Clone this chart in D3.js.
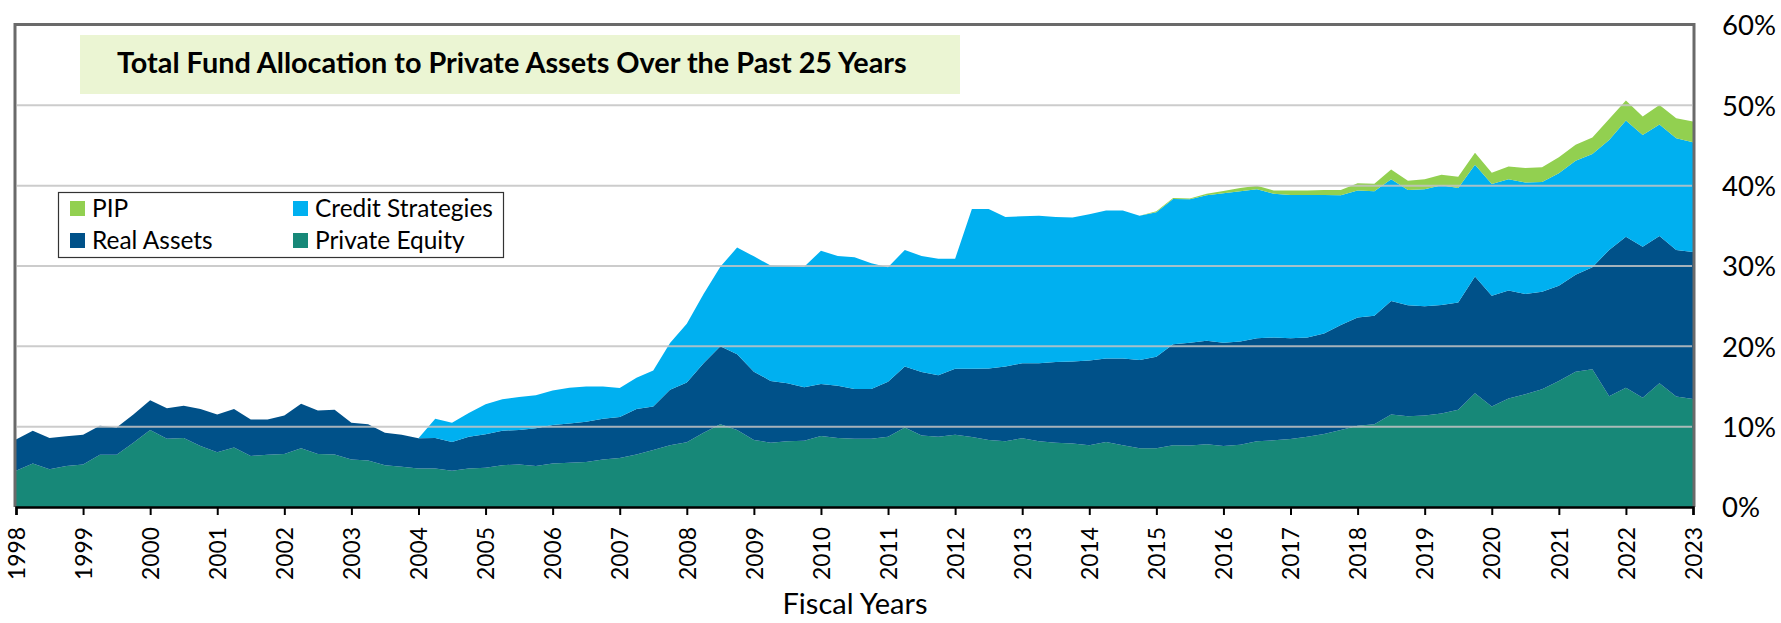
<!DOCTYPE html>
<html><head><meta charset="utf-8">
<script src="https://cdn.jsdelivr.net/npm/d3@7"></script>
<style>
body{margin:0;background:#fff;}
svg{display:block;}
text{font-family:Lato,"Open Sans",sans-serif;fill:#000;}
</style>
</head><body>
<svg id="chart" width="1781" height="623"></svg>
<script>
// ---- data ----
const seriesKeys = ["Private Equity","Real Assets","Credit Strategies","PIP"];
const seriesColors = ["#178878","#005189","#00B0F0","#92D050"];
const yearLabels = ["1998","1999","2000","2001","2002","2003","2004","2005","2006","2007","2008","2009","2010","2011","2012","2013","2014","2015","2016","2017","2018","2019","2020","2021","2022","2023"];
const yTickValues = [0,10,20,30,40,50,60];
const quarters = d3.range(101).map(i => 1998 + i / 4);

const privateEquity = [4.5,5.4,4.7,5.1,5.3,6.5,6.5,8.0,9.6,8.5,
 8.6,7.6,6.8,7.4,6.35,6.5,6.6,7.3,6.6,6.55,
 5.9,5.8,5.2,5.0,4.8,4.8,4.5,4.8,4.9,5.2,
 5.3,5.1,5.4,5.5,5.6,5.9,6.1,6.55,7.1,7.7,
 8.05,9.25,10.3,9.6,8.35,8.0,8.2,8.25,8.85,8.6,
 8.5,8.5,8.75,9.9,8.9,8.75,9.0,8.7,8.35,8.2,
 8.55,8.2,8.0,7.9,7.7,8.1,7.7,7.3,7.3,7.7,
 7.65,7.8,7.6,7.75,8.2,8.3,8.45,8.75,9.1,9.6,
 10.1,10.3,11.5,11.3,11.4,11.65,12.1,14.15,12.5,13.5,
 14.05,14.65,15.7,16.85,17.15,13.8,14.85,13.6,15.4,13.75,
 13.45];
const realAssets = [3.9,4.1,3.9,3.7,3.7,3.6,3.4,3.5,3.7,3.8,
 4.0,4.6,4.7,4.8,4.55,4.4,4.8,5.55,5.4,5.55,
 4.6,4.5,4.05,4.0,3.75,3.8,3.6,3.95,4.15,4.3,
 4.3,4.7,4.8,4.9,5.0,5.1,5.1,5.65,5.4,6.9,
 7.45,8.65,9.7,9.4,8.5,7.7,7.2,6.65,6.45,6.5,
 6.2,6.2,6.85,7.6,7.9,7.65,8.2,8.5,8.9,9.3,
 9.35,9.7,10.05,10.2,10.55,10.4,10.8,11.0,11.4,12.55,
 12.8,12.9,12.85,12.85,12.8,12.8,12.55,12.35,12.5,13.05,
 13.5,13.5,14.15,13.8,13.6,13.5,13.35,14.55,13.8,13.45,
 12.45,12.15,11.85,12.05,12.7,18.2,18.8,18.8,18.35,18.25,
 18.3];
const creditStrategies = [0,0,0,0,0,0,0,0,0,0,
 0,0,0,0,0,0,0,0,0,0,
 0,0,0,0,0,2.4,2.4,2.95,3.75,3.9,
 4.1,4.1,4.3,4.45,4.4,4.0,3.6,3.9,4.5,5.8,
 7.3,8.6,9.9,13.3,14.35,14.35,14.6,15.0,16.6,16.15,
 16.4,15.65,14.25,14.5,14.45,14.5,13.7,19.9,19.85,18.6,
 18.3,18.35,18.05,17.95,18.2,18.4,18.4,17.95,18.0,18.1,
 17.85,18.1,18.6,18.7,18.55,17.9,17.85,17.75,17.25,16.15,
 15.8,15.5,15.15,14.35,14.55,14.9,14.25,13.9,13.9,13.85,
 13.9,13.65,14.0,14.2,14.1,13.7,14.45,13.9,13.85,13.9,
 13.65];
const pip = [0,0,0,0,0,0,0,0,0,0,
 0,0,0,0,0,0,0,0,0,0,
 0,0,0,0,0,0,0,0,0,0,
 0,0,0,0,0,0,0,0,0,0,
 0,0,0,0,0,0,0,0,0,0,
 0,0,0,0,0,0,0,0,0,0,
 0,0,0,0,0,0,0,0,0.1,0.1,
 0.1,0.2,0.3,0.4,0.45,0.4,0.55,0.55,0.6,0.65,
 0.9,0.95,1.2,1.15,1.25,1.3,1.4,1.5,1.4,1.6,
 1.8,1.85,2.0,2.0,2.05,2.6,2.5,2.3,2.45,2.5,
 2.6];

// ---- build table ----
const seriesArrays = [privateEquity, realAssets, creditStrategies, pip];
const rows = quarters.map((q, i) => {
  const r = {year: q};
  seriesKeys.forEach((k, j) => r[k] = seriesArrays[j][i]);
  return r;
});

const svg = d3.select("#chart");
const x = d3.scaleLinear().domain([1998, 2023]).range([16, 1693]);
const y = d3.scaleLinear().domain([0, 60]).range([507, 25]);

function fit(sel, target) {
  const w = sel.node().getComputedTextLength();
  const fs = parseFloat(sel.attr("font-size"));
  return fs * target / w;
}

// areas
const stacked = d3.stack().keys(seriesKeys)(rows);
const area = d3.area()
  .x(d => x(d.data.year))
  .y0(d => y(d[0]))
  .y1(d => y(d[1]));
svg.append("g").selectAll("path").data(stacked).join("path")
  .attr("d", area)
  .attr("fill", (d, i) => seriesColors[i]);

// gridlines on top
svg.append("g").selectAll("line").data(yTickValues.filter(v => v > 0 && v < 60)).join("line")
  .attr("x1", 17).attr("x2", 1692)
  .attr("y1", d => y(d)).attr("y2", d => y(d))
  .attr("stroke", "#c4c4c4").attr("stroke-width", 2).attr("opacity", 0.85);

// frame
svg.append("path")
  .attr("d", `M${x(1998) - 1},${y(0)} V${y(60) - 0.5} H${x(2023) + 1} V${y(0)}`)
  .attr("fill", "none").attr("stroke", "#6a6a6a").attr("stroke-width", 3);

// x axis
const xAxis = d3.axisBottom(x).tickValues(yearLabels.map(Number)).tickSize(8).tickFormat(d => String(d));
const gx = svg.append("g").attr("transform", `translate(0,${y(0)})`).call(xAxis);
gx.select(".domain").attr("stroke", "#000").attr("stroke-width", 2.5);
gx.selectAll(".tick line").attr("stroke", "#000").attr("stroke-width", 2);
const xt = gx.selectAll(".tick text")
  .attr("font-size", 22)
  .attr("transform", "rotate(-90)")
  .attr("text-anchor", "end")
  .attr("x", -20).attr("y", 0).attr("dy", "0.36em");
const xfs = fit(d3.select(xt.nodes()[0]), 53);
xt.attr("font-size", xfs).style("font-family", "Lato,'Open Sans',sans-serif");

// y axis (right)
const yAxis = d3.axisRight(y).tickValues(yTickValues).tickSize(0).tickPadding(29).tickFormat(d => d + "%");
const gy = svg.append("g").attr("transform", `translate(${x(2023)},0)`).call(yAxis);
gy.select(".domain").remove();
const yt = gy.selectAll(".tick text").attr("font-size", 28).attr("dy", "0.36em").style("font-family", "Lato,'Open Sans',sans-serif");
const yfs = fit(d3.select(yt.nodes()[5]), 54);
yt.attr("font-size", yfs);

// x axis title
const xl = svg.append("text").attr("x", 855).attr("y", 614).attr("text-anchor", "middle")
  .attr("font-size", 26).text("Fiscal Years");
xl.attr("font-size", fit(xl, 145));

// title box
svg.append("rect").attr("x", 80).attr("y", 35).attr("width", 880).attr("height", 59).attr("fill", "#EBF5D3");
const tt = svg.append("text").attr("x", 117).attr("y", 73).attr("font-size", 30).attr("font-weight", 700)
  .text("Total Fund Allocation to Private Assets Over the Past 25 Years");
tt.attr("font-size", fit(tt, 790));

// legend
const lg = svg.append("g");
lg.append("rect").attr("x", 58.5).attr("y", 192.5).attr("width", 445).attr("height", 65)
  .attr("fill", "#fff").attr("stroke", "#333").attr("stroke-width", 1.2);
const legendItems = [
  {key: "PIP", col: 0, row: 0},
  {key: "Credit Strategies", col: 1, row: 0},
  {key: "Real Assets", col: 0, row: 1},
  {key: "Private Equity", col: 1, row: 1}
];
const colX = [70, 293], rowY = [201, 233];
legendItems.forEach(it => {
  const c = seriesColors[seriesKeys.indexOf(it.key)];
  lg.append("rect").attr("x", colX[it.col]).attr("y", rowY[it.row]).attr("width", 15).attr("height", 15).attr("fill", c);
});
const lt = lg.selectAll("text.l").data(legendItems).join("text").attr("class", "l")
  .attr("x", d => colX[d.col] + 22).attr("y", d => rowY[d.row] + 15.5)
  .attr("font-size", 24).text(d => d.key);
const lfs = fit(lt.filter(d => d.key === "Credit Strategies"), 178);
lt.attr("font-size", lfs);
</script>
</body></html>
